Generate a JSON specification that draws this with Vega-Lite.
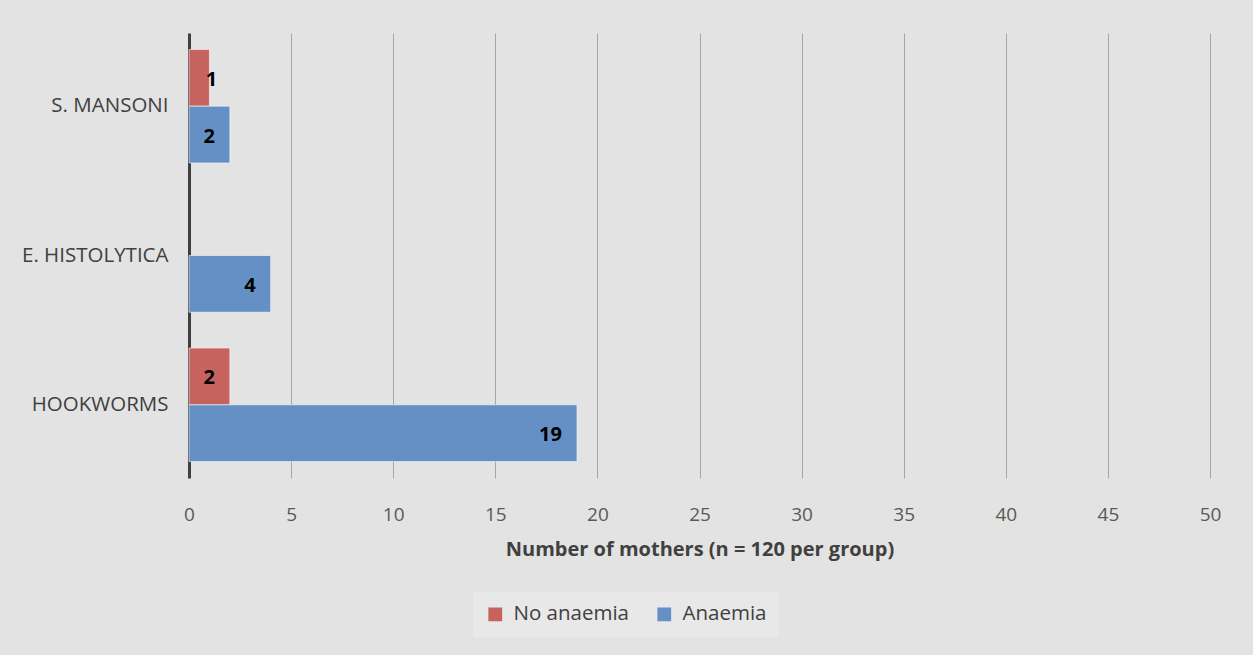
{
  "$schema": "https://vega.github.io/schema/vega-lite/v6.json",
  "autosize": {"type": "none"},
  "padding": {"left": 189, "top": 33, "right": 43, "bottom": 177},
  "width": 1021,
  "height": 445,
  "background": "#e3e3e3",
  "config": {
    "view": {"stroke": null},
    "font": "Open Sans"
  },
  "data": {
    "values": [
      {"parasite": "S. MANSONI", "group": "No anaemia", "count": 1},
      {"parasite": "S. MANSONI", "group": "Anaemia", "count": 2},
      {"parasite": "E. HISTOLYTICA", "group": "No anaemia", "count": 0},
      {"parasite": "E. HISTOLYTICA", "group": "Anaemia", "count": 4},
      {"parasite": "HOOKWORMS", "group": "No anaemia", "count": 2},
      {"parasite": "HOOKWORMS", "group": "Anaemia", "count": 19}
    ]
  },
  "encoding": {
    "y": {
      "field": "parasite",
      "type": "nominal",
      "sort": ["S. MANSONI", "E. HISTOLYTICA", "HOOKWORMS"],
      "scale": {"paddingInner": 0.24, "paddingOuter": 0.11},
      "axis": {
        "title": null,
        "domain": true,
        "domainColor": "#404040",
        "domainWidth": 3,
        "ticks": false,
        "labelPadding": 21,
        "labelFontSize": 20.5,
        "labelColor": "#404040"
      }
    },
    "yOffset": {
      "field": "group",
      "type": "nominal",
      "sort": ["No anaemia", "Anaemia"],
      "scale": {"paddingInner": 0, "paddingOuter": 0}
    },
    "x": {
      "field": "count",
      "type": "quantitative",
      "scale": {"domain": [0, 50], "nice": false},
      "axis": {
        "values": [0, 5, 10, 15, 20, 25, 30, 35, 40, 45, 50],
        "title": "Number of mothers (n = 120 per group)",
        "titleFontSize": 20,
        "titleFontWeight": "bold",
        "titleColor": "#404040",
        "titlePadding": 15,
        "domain": false,
        "ticks": false,
        "grid": true,
        "gridColor": "#a6a6a6",
        "gridWidth": 1,
        "labelFlush": false,
        "labelPadding": 27,
        "labelFontSize": 19,
        "labelColor": "#595959"
      }
    }
  },
  "layer": [
    {
      "transform": [{"filter": "datum.count > 0"}],
      "mark": {"type": "bar", "stroke": "#ffffff", "strokeOpacity": 0.55, "strokeWidth": 1},
      "encoding": {
        "color": {
          "field": "group",
          "type": "nominal",
          "sort": ["No anaemia", "Anaemia"],
          "scale": {"domain": ["No anaemia", "Anaemia"], "range": ["#C7635F", "#6490C6"]},
          "legend": {
            "title": null,
            "orient": "none",
            "direction": "horizontal",
            "legendX": 284,
            "legendY": 559,
            "fillColor": "#e8e8e8",
            "padding": 12,
            "symbolType": "square",
            "symbolSize": 190,
            "symbolStrokeWidth": 0,
            "labelFontSize": 20.5,
            "labelColor": "#404040",
            "columnPadding": 24,
            "labelOffset": 8
          }
        }
      }
    },
    {
      "transform": [{"filter": "datum.count >= 2"}],
      "mark": {"type": "text", "align": "right", "dx": -15, "dy": 2, "fontWeight": "bold", "fontSize": 20, "color": "#000000"},
      "encoding": {"text": {"field": "count", "type": "quantitative"}}
    },
    {
      "transform": [{"filter": "datum.count > 0 && datum.count < 2"}],
      "mark": {"type": "text", "align": "center", "dx": 2, "dy": 2, "fontWeight": "bold", "fontSize": 20, "color": "#000000"},
      "encoding": {"text": {"field": "count", "type": "quantitative"}}
    }
  ]
}
